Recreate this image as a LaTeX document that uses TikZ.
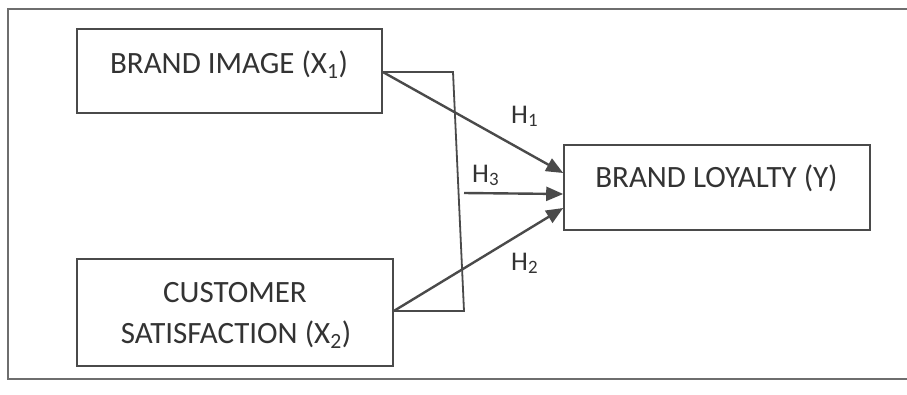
\documentclass[tikz,border=0pt]{standalone}
\usepackage{fontspec}
\setmainfont{Carlito}
\usetikzlibrary{arrows.meta}
\definecolor{ink}{HTML}{333333}
\definecolor{lin}{HTML}{4A4A4A}
\tikzset{
  box/.style={draw=lin, line width=1.6pt, inner sep=0pt},
  txt/.style={text=ink, font=\fontsize{31}{37}\selectfont, inner sep=0pt, anchor=base},
  hlab/.style={text=ink, font=\fontsize{27}{32}\selectfont, inner sep=0pt, anchor=base west},
  arr/.style={draw=lin, line width=2.4pt, -{Triangle[length=17pt,width=14pt]}},
  brk/.style={draw=lin, line width=1.8pt},
  frame/.style={draw=lin!80, line width=1.8pt}
}
\begin{document}
\begin{tikzpicture}[x=1pt,y=-1pt]
\useasboundingbox (0,0) rectangle (907,394);
% outer frame (open on the right)
\coordinate (f1) at (907,9);
\coordinate (f2) at (8,9);
\coordinate (f3) at (8,379);
\coordinate (f4) at (907,379);
\draw[frame] (f1) -- (f2) -- (f3) -- (f4);
% boxes
\node[box, minimum width=305pt, minimum height=84pt] (bi) at (229.5,71) {};
\node[txt] (bit) at (229,73) {BRAND IMAGE (X\textsubscript{1})};
\node[box, minimum width=316pt, minimum height=107pt] (cs) at (235,312.5) {};
\node[txt] (cst1) at (235,302) {CUSTOMER};
\node[txt] (cst2) at (236,343) {SATISFACTION (X\textsubscript{2})};
\node[box, minimum width=306pt, minimum height=85pt] (bl) at (717,187.5) {};
\node[txt] (blt) at (716.5,187) {BRAND LOYALTY (Y)};
% bracket
\coordinate (b1) at (bi.east |- 0,72);
\coordinate (b2) at (453,72);
\coordinate (b3) at (464,311);
\coordinate (b4) at (cs.east |- 0,311);
\draw[brk] (b1) -- (b2) -- (b3) -- (b4);
% arrows
\coordinate (e1) at (bl.west |- 0,173);
\coordinate (e3) at (bl.west |- 0,194);
\coordinate (e2) at (bl.west |- 0,208);
\coordinate (s3) at (464,193);
\draw[arr] (b1) -- (e1);
\draw[arr] (s3) -- (e3);
\draw[arr] (b4) -- (e2);
% labels
\node[hlab] (h1) at (511,123) {H\textsubscript{1}};
\node[hlab] (h3) at (472,182) {H\textsubscript{3}};
\node[hlab] (h2) at (511,270) {H\textsubscript{2}};
\end{tikzpicture}
\end{document}
